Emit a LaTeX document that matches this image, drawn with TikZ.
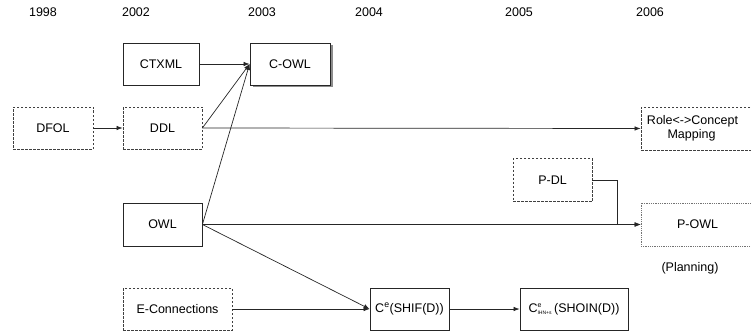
\documentclass[tikz,border=0pt]{standalone}
\usepackage{fontspec}
\setmainfont{Liberation Sans}
\usetikzlibrary{arrows.meta,shadows}
\begin{document}
\begin{tikzpicture}[x=1pt,y=-1pt,
  font=\fontsize{12.5}{14}\selectfont,
  box/.style={draw=black!85, line width=0.8pt, minimum height=42pt, inner sep=1pt, align=center},
  dbox/.style={box, dashed, dash pattern=on 2.5pt off 1.5pt, draw=black!75},
  pbox/.style={box, draw=black!55, line width=0.6pt, dash pattern=on 1pt off 0.8pt},
  conn/.style={draw=black!85, line width=0.7pt},
  arr/.style={conn, -{Latex[length=6pt,width=4.5pt]}},
  year/.style={inner sep=0pt}]
\useasboundingbox (0,0) rectangle (751,334);
% years
\node[year] (y1998) at (43,12) {1998};
\node[year] (y2002) at (136,12) {2002};
\node[year] (y2003) at (262,12) {2003};
\node[year] (y2004) at (369,12) {2004};
\node[year] (y2005) at (519,12) {2005};
\node[year] (y2006) at (650,12) {2006};
% boxes
\node[dbox, minimum width=80pt] (dfol) at (53,128) {DFOL};
\node[dbox, minimum width=79pt] (ddl) at (162.5,128) {DDL};
\node[box, minimum width=76pt] (ctxml) at (161,64) {CTXML};
\node[box, minimum width=80pt, fill=white, drop shadow={shadow xshift=2.5pt, shadow yshift=-2.5pt, fill=black!45, opacity=1}] (cowl) at (290,64) {C-OWL};
\node[box, minimum width=79pt, minimum height=43pt] (owl) at (162.5,224.5) {OWL};
\node[dbox, minimum width=109pt] (econ) at (177.5,309) {E-Connections};
\node[box, minimum width=79pt] (shif) at (409.5,309) {C\textsuperscript{e}(SHIF(D))};
\node[box, minimum width=108pt] (shoin) at (574,309) {C$^{\mbox{\scriptsize e}}_{\mbox{\tiny IHN+s}}$\,(SHOIN(D))};
\node[dbox, minimum width=119pt, minimum height=43pt] (role) at (700.5,128.5) {\hspace*{-16pt}Role<->Concept\\\hspace*{-18pt}Mapping};
\node[dbox, minimum width=79pt, minimum height=43pt] (pdl) at (552.5,180) {P-DL};
\node[pbox, minimum width=119pt, minimum height=43pt] (powl) at (700.5,224.5) {\hspace*{-6pt}P-OWL};
\node[inner sep=0pt] (plan) at (690,268) {(Planning)};
% connectors
\draw[arr] (dfol) -- (ddl);
\draw[arr] (ctxml) -- (cowl.west);
\draw[arr] (ddl.east) -- (cowl.west);
\draw[arr] (owl.east) -- (cowl.west);
\draw[arr] (ddl.east) -- (role.west);
\draw[arr] (owl.east) -- (powl.west);
\draw[arr] (pdl.east) -- ++(25,0) |- (powl.west);
\draw[arr] (owl.east) -- (shif.west);
\draw[arr] (econ.east) -- (shif.west);
\draw[arr] (shif.east) -- (shoin.west);
\end{tikzpicture}
\end{document}
